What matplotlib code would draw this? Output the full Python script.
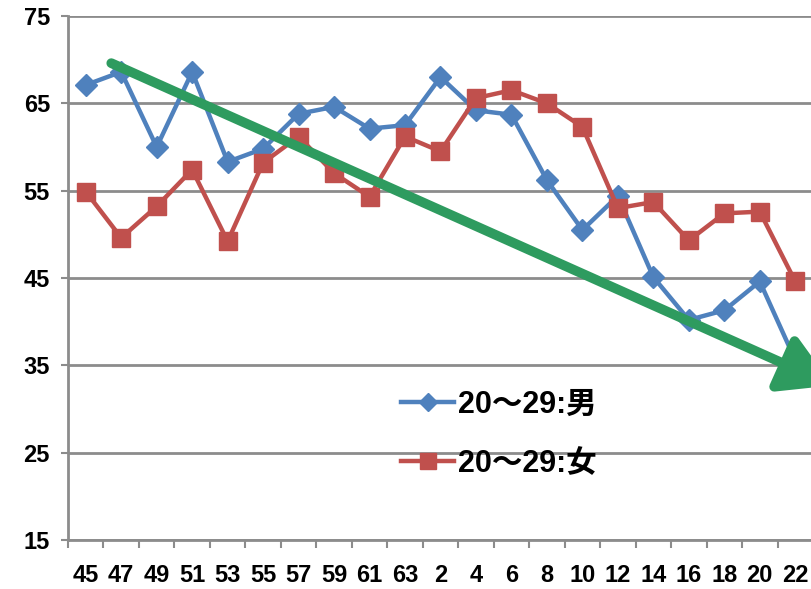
import matplotlib
matplotlib.use("Agg")
import matplotlib.pyplot as plt
from matplotlib.font_manager import FontProperties

categories = ["45", "47", "49", "51", "53", "55", "57", "59", "61", "63",
              "2", "4", "6", "8", "10", "12", "14", "16", "18", "20", "22"]
male = [67.1, 68.6, 60.0, 68.6, 58.3, 59.8, 63.8, 64.6, 62.1, 62.5,
        68.0, 64.2, 63.7, 56.2, 50.5, 54.4, 45.1, 40.2, 41.3, 44.6, 35.6]
female = [54.9, 49.6, 53.2, 57.4, 49.2, 58.2, 61.2, 57.0, 54.3, 61.2,
          59.5, 65.6, 66.5, 65.0, 62.3, 53.0, 53.7, 49.3, 52.4, 52.6, 44.6]
label_male = "20～29:男"
label_female = "20～29:女"
trend_start = (0.72, 69.6)
trend_end = (21.05, 32.7)
yticks = [15, 25, 35, 45, 55, 65, 75]

blue = "#4F81BD"
red = "#C0504D"
green = "#2E9B5F"
grid_c = "#8C8C8C"

W, H = 812, 589
fig = plt.figure(figsize=(W / 100, H / 100), dpi=100)
ax = fig.add_axes([68 / W, 1 - 540 / H, (813 - 68) / W, (540 - 16) / H])

x = list(range(len(categories)))
ax.plot(x, male, color=blue, lw=3.2, marker="D", ms=11, mec=blue, mfc=blue,
        label=label_male, zorder=3)
ax.plot(x, female, color=red, lw=3.2, marker="s", ms=13, mec=red, mfc=red,
        label=label_female, zorder=3)

ax.annotate("", xy=trend_end, xytext=trend_start, annotation_clip=False,
            arrowprops=dict(arrowstyle="-|>,head_length=1.55,head_width=0.9",
                            mutation_scale=20, lw=7, color=green,
                            shrinkA=0, shrinkB=0), zorder=4)

ax.set_xlim(-0.5, len(categories) - 0.5)
ax.set_ylim(15, 75)
ax.set_yticks(yticks)
ax.set_yticklabels([str(v) for v in yticks])
ax.set_xticks(x)
ax.set_xticklabels(categories)
ax.set_xticks([i - 0.5 for i in range(len(categories) + 1)], minor=True)

for lab in ax.get_xticklabels() + ax.get_yticklabels():
    lab.set_fontfamily("Liberation Sans")
    lab.set_fontweight("bold")
    lab.set_fontsize(17)
    lab.set_color("black")

ax.tick_params(axis="x", which="major", length=0, pad=17)
ax.tick_params(axis="x", which="minor", length=6, width=1.5, color=grid_c, direction="out")
ax.tick_params(axis="y", length=5, width=1.5, color=grid_c, pad=8)

ax.grid(axis="y", color=grid_c, lw=2)
ax.set_axisbelow(True)
for s in ["top", "right"]:
    ax.spines[s].set_visible(False)
for s in ["left", "bottom"]:
    ax.spines[s].set_color(grid_c)
    ax.spines[s].set_linewidth(2)

prop = FontProperties(family=["Liberation Sans", "Noto Sans CJK JP"], size=22,
                      weight="bold")
leg = ax.legend(loc="upper left", bbox_to_anchor=(401 / W, 1 - 390 / H),
                bbox_transform=fig.transFigure, frameon=False, prop=prop,
                handlelength=1.75, handletextpad=0.1, labelspacing=0.95,
                borderpad=0, borderaxespad=0, markerscale=0.85)

fig.savefig("out.png", dpi=100)
